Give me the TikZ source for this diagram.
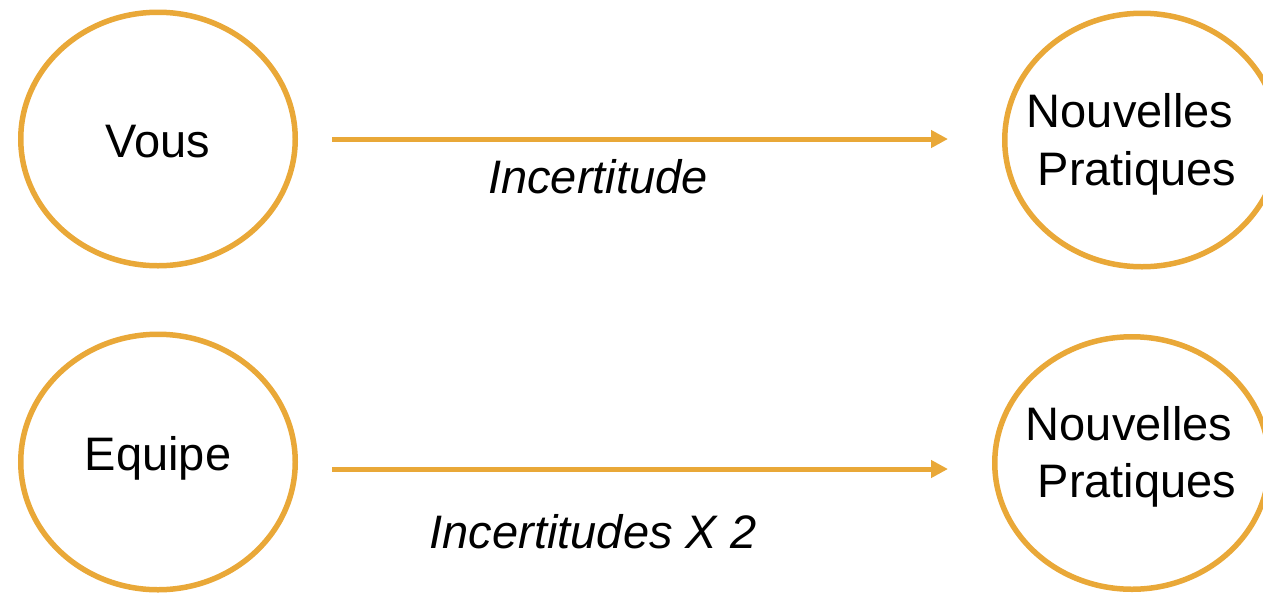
\documentclass[tikz,border=0pt]{standalone}
\usepackage{fontspec}
\setmainfont{Liberation Sans}
\usetikzlibrary{arrows.meta,shapes.geometric}
\definecolor{gold}{RGB}{233,168,56}
\begin{document}
\begin{tikzpicture}[x=1pt,y=-1pt,
  bubble/.style={draw=gold,line width=5.5pt,ellipse,inner sep=0pt,minimum width=274.5pt,minimum height=253.5pt},
  lbl/.style={anchor=base,inner sep=0pt,font=\fontsize{47}{57}\selectfont},
  ilbl/.style={anchor=base,inner sep=0pt,font=\fontsize{47}{57}\selectfont\itshape},
  arr/.style={draw=gold,line width=5pt,-{Triangle[length=17pt,width=17pt]}}]
\clip (0,0) rectangle (1263,595);
\path[use as bounding box] (0,0) rectangle (1263,595);
% ellipses
\node[bubble] (vous) at (158,139) {};
\node[bubble] (np1) at (1142,140) {};
\node[bubble,minimum height=255.5pt] (equipe) at (158,462) {};
\node[bubble,minimum height=252.5pt] (np2) at (1132,463) {};
% texts
\node[lbl] (tvous) at (158,157) {Vous};
\node[lbl] (tnp1a) at (1130,127) {Nouvelles};
\node[lbl] (tnp1b) at (1137,185) {Pratiques};
\node[lbl] (tequipe) at (158,470) {Equipe};
\node[lbl] (tnp2a) at (1129,440) {Nouvelles};
\node[lbl] (tnp2b) at (1137,497) {Pratiques};
\node[ilbl] (inc1) at (598,193) {Incertitude};
\node[ilbl] (inc2) at (593,548) {Incertitudes X 2};
% arrows
\coordinate (a1s) at (332,139);
\coordinate (a1e) at (948,139);
\coordinate (a2s) at (332,469);
\coordinate (a2e) at (948,469);
\draw[arr] (a1s) -- (a1e);
\draw[arr] (a2s) -- (a2e);
\end{tikzpicture}
\end{document}
